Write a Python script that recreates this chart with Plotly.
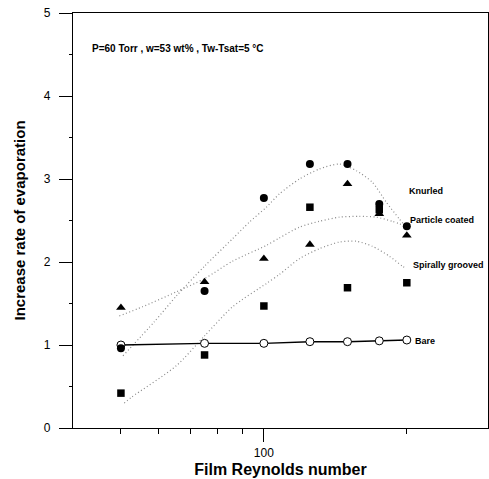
import numpy as np
import plotly.graph_objects as go

# Film Reynolds numbers of the measurements
reynolds = [50, 75, 100, 125, 150, 175, 200]

# Increase rate of evaporation for each tube surface
knurled = [0.96, 1.65, 2.77, 3.18, 3.18, 2.70, 2.43]
particle_coated = [1.45, 1.76, 2.04, 2.21, 2.94, 2.58, 2.32]
spirally_grooved = [0.42, 0.88, 1.47, 2.66, 1.69, 2.63, 1.75]
bare = [1.00, 1.02, 1.02, 1.04, 1.04, 1.05, 1.06]

# Fitted trend curves (Re, rate)
knurled_fit_re = [50.5, 58.8, 65.4, 75.0, 85.9, 93.2, 101.2, 107.8, 118.8, 130.8, 144.2, 156.6, 169.2, 181.1, 192.8, 199.5]
knurled_fit = [0.87, 1.28, 1.59, 1.95, 2.28, 2.48, 2.66, 2.82, 3.00, 3.12, 3.18, 3.10, 2.96, 2.72, 2.52, 2.42]
particle_fit_re = [49.6, 55.5, 65.4, 75.0, 85.9, 101.2, 107.8, 118.8, 130.8, 144.2, 158.9, 172.6, 186.4, 199.5]
particle_fit = [1.35, 1.46, 1.64, 1.80, 2.01, 2.20, 2.29, 2.42, 2.49, 2.54, 2.55, 2.54, 2.49, 2.43]
spirally_fit_re = [50.8, 52.6, 65.4, 75.0, 85.9, 101.2, 107.8, 118.8, 130.8, 144.2, 156.6, 169.2, 183.8, 195.7, 199.5]
spirally_fit = [0.30, 0.37, 0.75, 1.11, 1.46, 1.74, 1.85, 2.04, 2.16, 2.24, 2.25, 2.19, 2.07, 1.95, 1.92]

# Curve labels: (text, Re, rate)
curve_labels = [
    ("Knurled", 200.5, 2.86),
    ("Particle coated", 201.4, 2.51),
    ("Spirally grooved", 204.5, 1.96),
    ("Bare", 206.5, 1.05),
]
condition_text = "P=60 Torr , w=53 wt% , Tw-Tsat=5 °C"

FONT = "Liberation Sans, Arial, sans-serif"
fit_line = dict(color="#8a8a8a", width=1.2, dash="1px,2.5px", shape="spline", smoothing=0.7)

fig = go.Figure()
for xs, ys in [(knurled_fit_re, knurled_fit), (particle_fit_re, particle_fit),
               (spirally_fit_re, spirally_fit)]:
    fig.add_trace(go.Scatter(x=xs, y=ys, mode="lines", line=fit_line, hoverinfo="skip"))

fig.add_trace(go.Scatter(x=reynolds, y=bare, mode="lines+markers",
                         line=dict(color="black", width=1.4),
                         marker=dict(symbol="circle", size=8, color="white",
                                     line=dict(color="black", width=1))))
fig.add_trace(go.Scatter(x=reynolds, y=spirally_grooved, mode="markers",
                         marker=dict(symbol="square", size=7.5, color="black")))
fig.add_trace(go.Scatter(x=reynolds, y=particle_coated, mode="markers",
                         marker=dict(symbol="triangle-up", size=8.5, color="black")))
fig.add_trace(go.Scatter(x=reynolds, y=knurled, mode="markers",
                         marker=dict(symbol="circle", size=8, color="black")))

for text, xv, yv in curve_labels:
    fig.add_annotation(x=np.log10(xv), y=yv, text=f"<b>{text}</b>", showarrow=False,
                       xanchor="left", yanchor="middle",
                       font=dict(family=FONT, size=9, color="black"))

fig.add_annotation(x=0.04, y=4.57, xref="paper", text=f"<b>{condition_text}</b>",
                   showarrow=False, xanchor="left", yanchor="middle",
                   font=dict(family=FONT, size=10, color="black"))

fig.update_layout(
    width=489, height=479,
    margin=dict(l=73, r=1, t=13, b=51),
    plot_bgcolor="white", paper_bgcolor="white",
    showlegend=False,
    font=dict(family=FONT, color="black"),
)
fig.update_xaxes(
    type="log", range=[1.598, 2.472],
    tickmode="array", tickvals=[100], ticktext=["100"],
    ticks="outside", ticklen=13, tickwidth=1, tickcolor="black",
    minor=dict(tickmode="array", tickvals=[50, 60, 70, 80, 90, 200],
               ticks="outside", ticklen=5, tickcolor="black"),
    showgrid=False, zeroline=False,
    showline=True, linecolor="black", linewidth=1.2, mirror=True,
    tickfont=dict(size=12),
    title=dict(text="<b>Film Reynolds number</b>", font=dict(size=16), standoff=5),
)
fig.update_yaxes(
    range=[0, 5], tickmode="array", tickvals=[0, 1, 2, 3, 4, 5],
    ticks="outside", ticklen=13, tickwidth=1, tickcolor="black",
    minor=dict(tickmode="array", tickvals=[0.5, 1.5, 2.5, 3.5, 4.5],
               ticks="outside", ticklen=3, tickcolor="black"),
    showgrid=False, zeroline=False,
    showline=True, linecolor="black", linewidth=1.2, mirror=True,
    tickfont=dict(size=12), ticklabelstandoff=6,
    title=dict(text="<b>Increase rate of evaporation</b>", font=dict(size=15), standoff=14),
)

fig.write_html("out.html")
